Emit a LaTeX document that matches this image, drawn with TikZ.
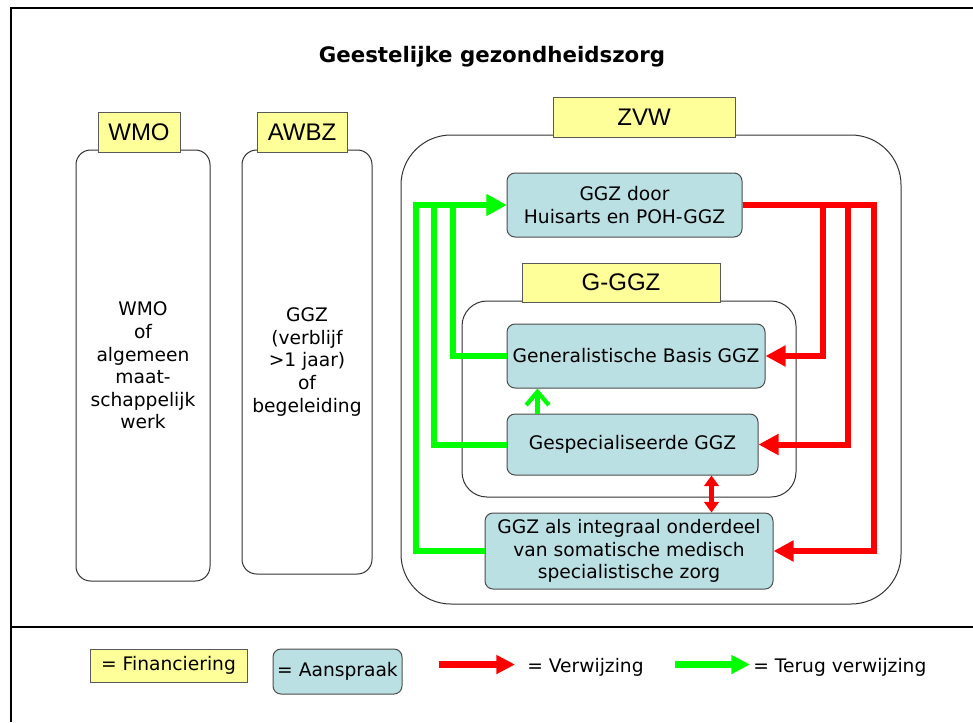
\documentclass[tikz,border=0pt]{standalone}
\usepackage{fontspec}
\setmainfont{DejaVu Sans}
\newfontfamily\labelfont{Liberation Sans}
\usetikzlibrary{arrows.meta,shapes}

\definecolor{finyellow}{HTML}{FFFF99}
\definecolor{zorgblue}{HTML}{BBE0E3}
\definecolor{pijlrood}{HTML}{FF0000}
\definecolor{pijlgroen}{HTML}{00FF00}

\begin{document}
\begin{tikzpicture}[x=0.75pt,y=-0.75pt]
	\tikzset{every node/.style={font=\fontsize{14}{16.9}\selectfont,align=center}}
	\tikzset{kader/.style={draw=black!80,fill=white,line width=0.75pt,inner sep=0pt}}
	\tikzset{finlabel/.style={draw=black!65,fill=finyellow,line width=0.75pt,inner sep=0pt,font=\labelfont\fontsize{18}{20}\selectfont}}
	\tikzset{zorgbox/.style={draw=black!70,fill=zorgblue,line width=0.75pt,rounded corners=6pt,inner sep=0pt}}
	\tikzset{verwijs/.style={draw=pijlrood,line width=4.5pt,-{Triangle[length=15pt,width=15pt]}}}
	\tikzset{terug/.style={draw=pijlgroen,line width=4.5pt,-{Triangle[length=15pt,width=15pt]}}}
	\useasboundingbox (0,0) rectangle (973,722);
	% frame
	\draw[line width=1.5pt] (11,722) -- (11,8) -- (973,8);
	\draw[line width=1.5pt] (11,627) -- (973,627);
	\node[font=\fontsize{16}{19}\selectfont\bfseries] (titel) at (492,57) {Geestelijke gezondheidszorg};
	% kaders
	\node[kader,rounded corners=11pt,minimum width=100.5pt,minimum height=323.25pt] (wmobox) at (143,365.5)
		{WMO\\of\\algemeen\\maat-\\schappelijk\\werk};
	\node[kader,rounded corners=11pt,minimum width=97.5pt,minimum height=318pt] (awbzbox) at (307,362)
		{GGZ\\(verblijf\\>1 jaar)\\of\\begeleiding};
	\node[kader,rounded corners=37.5pt,minimum width=375pt,minimum height=351.75pt] (zvwbox) at (651,369.5) {};
	\node[kader,rounded corners=18.75pt,minimum width=250.5pt,minimum height=147pt] (gggzbox) at (629,399) {};
	% financiering
	\node[finlabel,minimum width=61.5pt,minimum height=30pt] (wmolbl) at (139,132) {WMO};
	\node[finlabel,minimum width=67.5pt,minimum height=30pt] (awbzlbl) at (302,132) {AWBZ};
	\node[finlabel,minimum width=136.5pt,minimum height=30pt] (zvwlbl) at (644,117) {ZVW};
	\node[finlabel,minimum width=148.5pt,minimum height=29.25pt] (gggzlbl) at (621,282.5) {G-GGZ};
	% aanspraak
	\node[zorgbox,minimum width=176.25pt,minimum height=48pt] (huisarts) at (624.5,205) {GGZ door\\Huisarts en POH-GGZ};
	\node[zorgbox,minimum width=193.5pt,minimum height=48pt] (basis) at (636,356) {Generalistische Basis GGZ};
	\node[zorgbox,minimum width=188.25pt,minimum height=45.75pt] (specggz) at (632.5,444.5) {Gespecialiseerde GGZ};
	\node[zorgbox,minimum width=216pt,minimum height=57pt] (integraal) at (629,551)
		{GGZ als integraal onderdeel\\van somatische medisch\\specialistische zorg};
	% verwijzingen
	\draw[verwijs] (huisarts.east) -- ++(80,0) |- (basis.east);
	\draw[verwijs] (huisarts.east) -- ++(105,0) |- (specggz.east);
	\draw[verwijs] (huisarts.east) -- ++(131,0) |- (integraal.east);
	\draw[terug] (basis.west) -- ++(-54,0) |- (huisarts.west);
	\draw[terug] (specggz.west) -- ++(-73,0) |- (huisarts.west);
	\draw[terug] (integraal.west) -- ++(-69,0) |- (huisarts.west);
	\draw[draw=pijlgroen,line width=3.2pt,-{Straight Barb[length=10pt,width=17pt]}]
		([xshift=23.25pt]specggz.north west) -- ([xshift=23.25pt]basis.south west);
	\draw[draw=pijlrood,line width=3.75pt,{Triangle[length=8pt,width=11pt]}-{Triangle[length=8pt,width=11pt]}]
		([xshift=153.75pt]specggz.south west) -- ([xshift=153.75pt]specggz.south west |- integraal.north);
	% legenda
	\node[draw=black!65,fill=finyellow,line width=0.75pt,inner sep=0pt,minimum width=117.75pt,minimum height=24.75pt] (legfin) at (168.5,665.5) {= Financiering};
	\node[zorgbox,minimum width=96.75pt,minimum height=33.75pt] (legaan) at (337.5,671.5) {= Aanspraak};
	\coordinate (rodestart) at (439,664.5);
	\coordinate (rodeeind) at (515,664.5);
	\draw[draw=pijlrood,line width=5.25pt,-{Triangle[length=14pt,width=13.5pt]}] (rodestart) -- (rodeeind);
	\node[anchor=west,inner sep=0pt] (legverw) at (527,667) {= Verwijzing};
	\coordinate (groenstart) at (675,664.5);
	\coordinate (groeneind) at (750,664.5);
	\draw[draw=pijlgroen,line width=5.25pt,-{Triangle[length=14pt,width=13.5pt]}] (groenstart) -- (groeneind);
	\node[anchor=west,inner sep=0pt] (legterug) at (753,667) {= Terug verwijzing};
\end{tikzpicture}
\end{document}
